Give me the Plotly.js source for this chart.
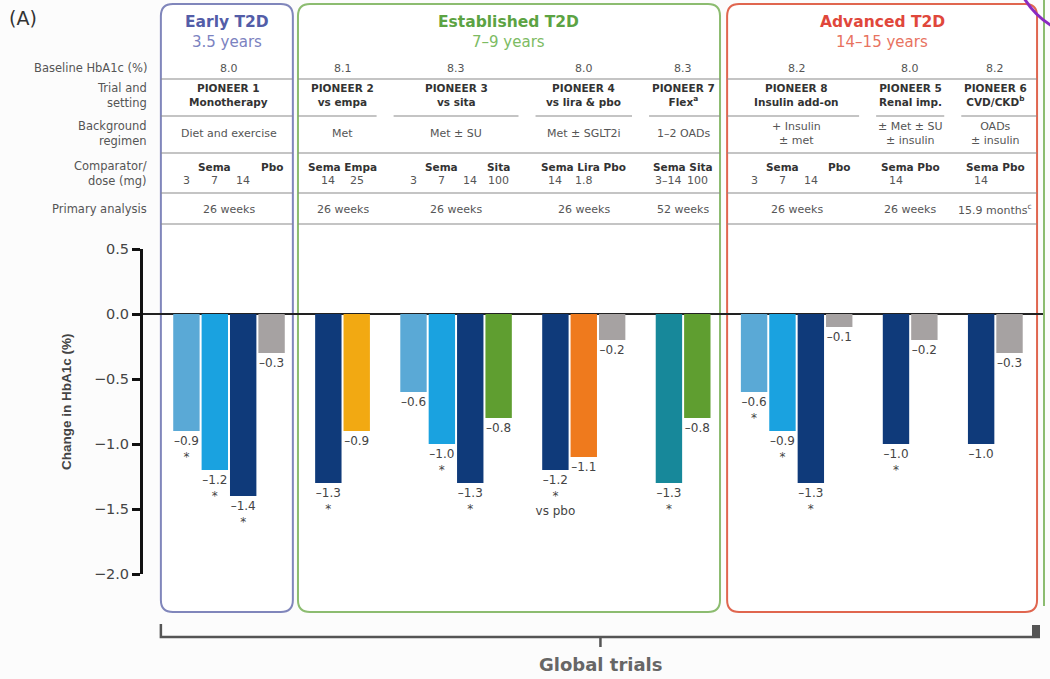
<!DOCTYPE html>
<html><head><meta charset="utf-8">
<script src="https://cdn.plot.ly/plotly-3.0.1.min.js"></script>
<style>html,body{margin:0;padding:0;background:#fcfcfc}</style>
</head><body><div id="chart" style="width:1050px;height:679px"></div>
<script>
// ---- Trial table (left to right) ----
const trialNames = ['PIONEER 1','PIONEER 2','PIONEER 3','PIONEER 4','PIONEER 7','PIONEER 8','PIONEER 5','PIONEER 6'];
const trialSettings = ['Monotherapy','vs empa','vs sita','vs lira & pbo','Flex<sup>a</sup>','Insulin add-on','Renal imp.','CVD/CKD<sup>b</sup>'];
const baselineHbA1c = [8.0, 8.1, 8.3, 8.0, 8.3, 8.2, 8.0, 8.2];
const backgroundRegimen = ['Diet and exercise','Met','Met ± SU','Met ± SGLT2i','1–2 OADs','+ Insulin<br>± met','± Met ± SU<br>± insulin','OADs<br>± insulin'];
const primaryAnalysis = ['26 weeks','26 weeks','26 weeks','26 weeks','52 weeks','26 weeks','26 weeks','15.9 months<sup>c</sup>'];

// ---- Disease stages ----
const stageNames = ['Early T2D','Established T2D','Advanced T2D'];
const stageYears = ['3.5 years','7–9 years','14–15 years'];
const stageFirstTrial = [0, 1, 5];
const stageLastTrial = [0, 4, 7];

// ---- Treatment arms ----
const armTrial = [0,0,0,0, 1,1, 2,2,2,2, 3,3,3, 4,4, 5,5,5,5, 6,6, 7,7];
const armDrug  = ['Sema','Sema','Sema','Pbo', 'Sema','Empa', 'Sema','Sema','Sema','Sita',
                  'Sema','Lira','Pbo', 'Sema','Sita', 'Sema','Sema','Sema','Pbo', 'Sema','Pbo', 'Sema','Pbo'];
const armDose  = ['3','7','14','', '14','25', '3','7','14','100', '14','1.8','', '3–14','100',
                  '3','7','14','', '14','', '14',''];
const hba1cChange = [-0.9,-1.2,-1.4,-0.3, -1.3,-0.9, -0.6,-1.0,-1.3,-0.8, -1.2,-1.1,-0.2, -1.3,-0.8,
                     -0.6,-0.9,-1.3,-0.1, -1.0,-0.2, -1.0,-0.3];
const significant = [1,1,1,0, 1,0, 0,1,1,0, 1,0,0, 1,0, 1,1,1,0, 1,0, 0,0];
const armNote = ['','','','', '','', '','','','', 'vs pbo','','', '','', '','','','', '','', '',''];

// ---- Styling ----
const semaColors = {'3':'#5aa9d6','7':'#1aa2e0','14':'#0f3a7a','3–14':'#17889a'};
const drugColors = {'Pbo':'#a6a2a2','Empa':'#f2a912','Sita':'#5f9e30','Lira':'#ef7a1d'};
const stageColors = {
  name:   ['#535da8','#5ca343','#e0473b'],
  years:  ['#7b82c0','#7dbb63','#e8735f'],
  border: ['#8086bb','#8cbc70','#e0664f']
};
const FONT = 'DejaVu Sans, Verdana, sans-serif';
const NARROW = 'Liberation Sans, Arial, Helvetica, sans-serif';

// slot positions: one empty slot between trials
const slots = [];
let s = 0;
armTrial.forEach((t, i) => {
  if (i > 0 && t !== armTrial[i - 1]) s += 1;
  slots.push(s);
  s += 1;
});
const X0 = -1.53, X1 = 30.25;
const xp = v => (v - X0) / (X1 - X0);            // slot -> paper x
const pxX = p => (p - 143) / 902;                 // pixel -> paper x
const pxY = p => (574 - p) / 325;                 // pixel -> paper y

const trialFirstSlot = trialNames.map((_, t) => Math.min(...slots.filter((_, i) => armTrial[i] === t)));
const trialLastSlot  = trialNames.map((_, t) => Math.max(...slots.filter((_, i) => armTrial[i] === t)));
const trialCenter = trialNames.map((_, t) => (trialFirstSlot[t] + trialLastSlot[t]) / 2);

const fmt = v => (v < 0 ? '–' : '') + Math.abs(v).toFixed(1);
const barText = hba1cChange.map((v, i) => {
  let txt = fmt(v);
  if (significant[i]) txt += '<br>*';
  if (armNote[i]) txt += '<br>' + armNote[i];
  return txt;
});
const barColors = armDrug.map((d, i) => d === 'Sema' ? semaColors[armDose[i]] : drugColors[d]);

const bars = {
  type: 'bar',
  x: slots,
  y: hba1cChange,
  width: 0.93,
  marker: {color: barColors, line: {width: 0}},
  text: barText,
  textposition: 'outside',
  constraintext: 'none',
  cliponaxis: false,
  textfont: {family: FONT, size: 12, color: '#444'},
  hoverinfo: 'skip'
};

const shapes = [];
const annotations = [];
const note = (x, y, txt, font, extra) => annotations.push(Object.assign(
  {xref: 'paper', yref: 'paper', x: x, y: y, text: txt, showarrow: false,
   xanchor: 'center', yanchor: 'middle', font: font}, extra || {}));

// stage boxes with rounded corners
const padL = [0.9, 1.07, 0.95], padR = [0.75, 0.8, 0.97];
const boxTop = pxY(4), boxBot = pxY(612);
const rx = 12 / 902, ry = 12 / 325;
stageNames.forEach((name, k) => {
  const x0 = xp(trialFirstSlot[stageFirstTrial[k]] - padL[k]);
  const x1 = xp(trialLastSlot[stageLastTrial[k]] + padR[k]);
  const y0 = boxBot, y1 = boxTop;
  const path = `M${x0 + rx},${y1} L${x1 - rx},${y1} Q${x1},${y1} ${x1},${y1 - ry} L${x1},${y0 + ry} ` +
               `Q${x1},${y0} ${x1 - rx},${y0} L${x0 + rx},${y0} Q${x0},${y0} ${x0},${y0 + ry} ` +
               `L${x0},${y1 - ry} Q${x0},${y1} ${x0 + rx},${y1} Z`;
  shapes.push({type: 'path', xref: 'paper', yref: 'paper', path: path, layer: 'below',
               fillcolor: '#ffffff', line: {color: stageColors.border[k], width: 2}});
  const cx = (x0 + x1) / 2;
  note(cx, pxY(22), '<b>' + name + '</b>', {family: FONT, size: 15.5, color: stageColors.name[k]});
  note(cx, pxY(42), stageYears[k], {family: FONT, size: 15, color: stageColors.years[k]});

  // full-width row separators
  [79, 153, 193, 224].forEach(yy => {
    shapes.push({type: 'line', xref: 'paper', yref: 'paper', x0: x0, x1: x1, y0: pxY(yy), y1: pxY(yy),
                 line: {color: '#8a8a8a', width: 1.2}});
  });
  // per-trial separator under trial names
  for (let t = stageFirstTrial[k]; t <= stageLastTrial[k]; t++) {
    const a = t === stageFirstTrial[k] ? x0 : xp(trialFirstSlot[t] - 0.7);
    const b = t === stageLastTrial[k] ? x1 : xp(trialLastSlot[t] + 0.7);
    shapes.push({type: 'line', xref: 'paper', yref: 'paper', x0: a, x1: b, y0: pxY(116), y1: pxY(116),
                 line: {color: '#8a8a8a', width: 1.2}});
  }
});

// row labels on the left
const rowLabels = [
  ['Baseline HbA1c (%)', 68], ['Trial and<br>setting', 95], ['Background<br>regimen', 134],
  ['Comparator/<br>dose (mg)', 174], ['Primary analysis', 209]
];
rowLabels.forEach(([txt, yy]) => {
  note(pxX(149), pxY(yy), txt, {family: FONT, size: 11.5, color: '#555'}, {xanchor: 'right', align: 'right'});
});

// per-trial table cells
const cell = (x, yy, txt, size, color) => note(xp(x), pxY(yy), txt, {family: FONT, size: size, color: color});
trialNames.forEach((name, t) => {
  const cx = trialCenter[t];
  cell(cx, 68, baselineHbA1c[t].toFixed(1), 11, '#555');
  cell(cx, 95, '<b>' + name + '<br>' + trialSettings[t] + '</b>', 10.5, '#333');
  cell(cx, 134, backgroundRegimen[t], 11, '#555');
  cell(cx, 209, primaryAnalysis[t], 11, '#555');
});

// comparator names: grouped per drug; single-arm trials read as one line
trialNames.forEach((_, t) => {
  const idx = armTrial.map((a, i) => a === t ? i : -1).filter(i => i >= 0);
  const groups = [];
  idx.forEach(i => {
    const g = groups[groups.length - 1];
    if (g && armDrug[g[g.length - 1]] === armDrug[i]) g.push(i); else groups.push([i]);
  });
  if (groups.every(g => g.length === 1)) {
    cell(trialCenter[t], 167, '<b>' + groups.map(g => armDrug[g[0]]).join(' ') + '</b>', 10.5, '#333');
  } else {
    groups.forEach(g => cell((slots[g[0]] + slots[g[g.length - 1]]) / 2, 167,
                              '<b>' + armDrug[g[0]] + '</b>', 10.5, '#333'));
  }
});
armDose.forEach((d, i) => { if (d) cell(slots[i], 181, d, 11, '#555'); });

// panel letter and y-axis title
note(pxX(7), pxY(18), '(A)', {family: FONT, size: 19, color: '#333'}, {xanchor: 'left'});
note(pxX(66), pxY(402), '<b>Change in HbA1c (%)</b>', {family: NARROW, size: 13.5, color: '#444'}, {textangle: -90});

// "Global trials" bracket
const brL = xp(trialFirstSlot[0] - padL[0]), brR = pxX(1040), brMid = (brL + brR) / 2;
shapes.push({type: 'path', xref: 'paper', yref: 'paper',
  path: `M${brL},${pxY(624)} L${brL},${pxY(637)} L${brR},${pxY(637)}`,
  line: {color: '#555', width: 2.5}});
shapes.push({type: 'rect', xref: 'paper', yref: 'paper', x0: brR - 8 / 902, x1: brR, y0: pxY(638), y1: pxY(625),
  fillcolor: '#555', line: {width: 0}});
shapes.push({type: 'line', xref: 'paper', yref: 'paper', x0: brMid, x1: brMid, y0: pxY(637), y1: pxY(647),
  line: {color: '#555', width: 2.5}});
note(brMid, pxY(664), '<b>Global trials</b>', {family: FONT, size: 18, color: '#666'});

// edge of the neighbouring panel on the right
shapes.push({type: 'line', xref: 'paper', yref: 'paper', x0: pxX(1044), x1: pxX(1044), y0: pxY(0), y1: pxY(606),
  line: {color: '#8cbc70', width: 2}});
shapes.push({type: 'circle', xref: 'paper', yref: 'paper', x0: pxX(1012), x1: pxX(1178), y0: pxY(38), y1: pxY(-128),
  line: {color: '#8a2bc0', width: 3}});

const layout = {
  width: 1050, height: 679,
  margin: {l: 143, r: 5, t: 249, b: 105},
  paper_bgcolor: '#fcfcfc', plot_bgcolor: 'rgba(0,0,0,0)',
  showlegend: false,
  font: {family: FONT},
  xaxis: {range: [X0, X1], visible: false, fixedrange: true},
  yaxis: {
    range: [-2, 0.5], tickvals: [0.5, 0, -0.5, -1, -1.5, -2], tickformat: '.1f',
    showline: true, linewidth: 3, linecolor: '#111',
    ticks: 'outside', ticklen: 8, tickwidth: 3, tickcolor: '#111',
    tickfont: {family: FONT, size: 14.5, color: '#444'},
    showgrid: false, zeroline: true, zerolinewidth: 2.5, zerolinecolor: '#222', fixedrange: true
  },
  shapes: shapes,
  annotations: annotations
};

Plotly.newPlot('chart', [bars], layout, {displayModeBar: false, staticPlot: true});
</script></body></html>
